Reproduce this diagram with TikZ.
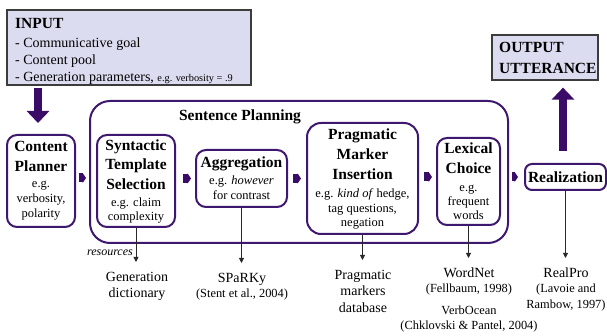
\documentclass[tikz,border=0pt]{standalone}
\usepackage{fontspec}
\setmainfont{Liberation Serif}
\usetikzlibrary{arrows.meta,calc}
\definecolor{pbord}{RGB}{62,24,110}
\definecolor{parrow}{RGB}{58,12,104}
\definecolor{lav}{RGB}{220,220,240}
\definecolor{gbord}{RGB}{60,60,60}
\definecolor{lineg}{RGB}{40,40,40}
\newcommand\ttl{\normalfont\fontsize{15.5}{20}\selectfont\bfseries}
\newcommand\bdy{\normalfont\fontsize{12.5}{15}\selectfont}
\newcommand\lbl{\normalfont\fontsize{14}{16.5}\selectfont}
\newcommand\rfn{\normalfont\fontsize{12.4}{15.5}\selectfont}
\newcommand\itm{\normalfont\fontsize{14}{17}\selectfont}
\begin{document}
\begin{tikzpicture}[x=1pt,y=-1pt,
  proc/.style={draw=pbord, line width=2pt, rounded corners=10pt, fill=white, inner sep=0pt, align=center, font=\bdy},
  lavbox/.style={draw=gbord, fill=lav, line width=1.2pt, inner sep=0pt},
  sarrow/.style={draw=parrow, line width=9pt, -{Triangle[length=3.5pt,width=10pt]}},
  barrow/.style={draw=parrow, line width=8pt, -{Triangle[length=12pt,width=22pt]}},
  resline/.style={draw=lineg, line width=0.9pt, -{Triangle[length=5pt,width=5pt]}},
  res/.style={anchor=north, inner xsep=0pt, inner ysep=10pt, align=center, font=\lbl}]
\useasboundingbox (0,0) rectangle (607,336);

% input / output boxes
\node[lavbox, minimum width=244pt, minimum height=75pt] (input) at (129,47.5) {};
\node[anchor=north west, align=left, inner sep=0pt, font=\itm] (inputtxt) at (15,17.7)
  {\ttl INPUT\\[2pt]\itm - Communicative goal\\\itm - Content pool\\\itm - Generation parameters, {\fontsize{10.3}{12}\selectfont e.g. verbosity = .9}};
\node[lavbox, minimum width=106pt, minimum height=45pt] (out) at (545,57.5) {};
\node[anchor=north west, align=left, inner sep=0pt, font=\ttl] (outtxt) at (499,41.7)
  {OUTPUT\\[1pt]UTTERANCE};

% sentence planning container
\node[draw=pbord, line width=2pt, rounded corners=20pt, minimum width=418pt, minimum height=142pt] (sp) at (299,172) {};
\node[inner sep=0pt, font=\ttl] (spt) at (240,117) {Sentence Planning};

% process boxes
\node[proc, minimum width=68pt, minimum height=92pt] (cp) at (41,181)
  {\ttl Content\\[5pt]\ttl Planner\\[1pt]\bdy e.g.\\\bdy verbosity,\\\bdy polarity};
\node[proc, minimum width=78pt, minimum height=92pt] (sts) at (136,181)
  {\ttl Syntactic\\[4.5pt]\ttl Template\\[4.5pt]\ttl Selection\\[2pt]\bdy e.g. claim\\[-1pt]\bdy complexity};
\node[proc, minimum width=91pt, minimum height=57pt] (agg) at (241.5,178.5)
  {\ttl Aggregation\\[2pt]\bdy e.g. \textit{however}\\\bdy for contrast};
\node[proc, rounded corners=14pt, minimum width=111pt, minimum height=111pt] (pmi) at (362.5,178.5)
  {\ttl Pragmatic\\[5pt]\ttl Marker\\[5pt]\ttl Insertion\\[3pt]\bdy e.g. \textit{kind of} hedge,\\\bdy tag questions,\\[-1pt]\bdy negation};
\node[proc, minimum width=63pt, minimum height=87pt] (lex) at (468.5,181.5)
  {\ttl Lexical\\[5pt]\ttl Choice\\[3pt]\bdy e.g.\\[-1pt]\bdy frequent\\[-1pt]\bdy words};
\node[proc, rounded corners=7pt, minimum width=81pt, minimum height=26pt] (real) at (565.5,177)
  {\ttl Realization};

% small block arrows
\draw[sarrow] ([xshift=3pt,yshift=3pt]cp.east) -- ([xshift=-10pt,yshift=3pt]sts.west);
\draw[sarrow] ([xshift=7pt]sts.east |- agg.west) -- ([xshift=-4pt]agg.west);
\draw[sarrow] ([xshift=5pt]agg.east) -- ([xshift=-5pt]pmi.west);
\draw[sarrow] ([xshift=5pt]pmi.east |- real.west) -- ([xshift=-4pt]lex.west |- real.west);
\draw[sarrow] ([xshift=11pt]lex.east |- real.west) -- ([xshift=-6pt]real.west);

% big arrows
\draw[barrow] ([xshift=-3pt,yshift=-2pt]input.south -| cp.north) -- ([xshift=-3pt,yshift=11pt]cp.north);
\draw[barrow] ([xshift=-2.5pt,yshift=12pt]real.north) -- ([xshift=-2.5pt,yshift=-7pt]out.south -| real.north);

% resources
\node[res] (gd) at (137,262) {Generation\\dictionary};
\node[res] (sk) at (242,263) {SPaRKy\\[-1.5pt]\rfn (Stent et al., 2004)};
\node[res] (pm) at (363,260) {Pragmatic\\markers\\database};
\node[res] (wn) at (469,258) {WordNet\\[-1.5pt]\rfn (Fellbaum, 1998)\\[5.5pt]\rfn VerbOcean\\[-1.5pt]\rfn (Chklovski \& Pantel, 2004)};
\node[res] (rp) at (566,258) {RealPro\\[-1.5pt]\rfn (Lavoie and\\[-0.5pt]\rfn Rambow, 1997)};
\node[anchor=base east, inner sep=0pt, font=\normalfont\fontsize{12}{14}\selectfont\itshape] (resl) at (133,256) {resources};

\draw[resline] (sts.south) -- (sts.south |- gd.north);
\draw[resline] (agg.south) -- (agg.south |- sk.north);
\draw[resline] (pmi.south) -- (pmi.south |- pm.north);
\draw[resline] (lex.south) -- (lex.south |- wn.north);
\draw[resline] (real.south) -- (real.south |- rp.north);
\end{tikzpicture}
\end{document}
